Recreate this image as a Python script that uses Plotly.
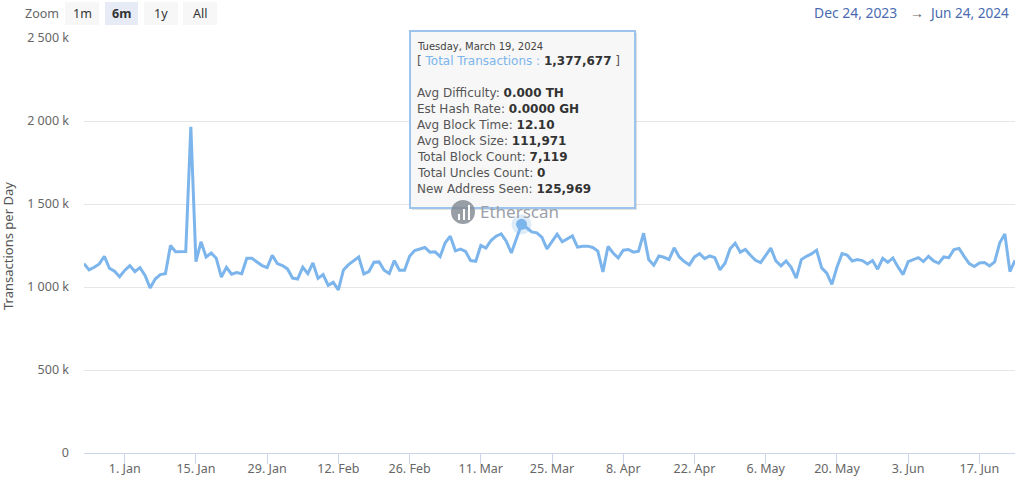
import pandas as pd
import plotly.graph_objects as go

# ==============================
# Data (thousands of transactions per day)
# ==============================
START_DATE = "2023-12-24"
END_DATE = "2024-06-24"
TRANSACTIONS_K = [
    1141, 1103, 1119, 1139, 1185, 1113, 1095, 1062, 1100, 1129, 1093, 1117, 1070, 994,
    1048, 1075, 1080, 1250, 1212, 1212, 1214, 1965, 1153, 1272, 1181, 1205, 1173, 1060,
    1119, 1077, 1087, 1080, 1173, 1173, 1149, 1129, 1117, 1191, 1141, 1129, 1109, 1054,
    1048, 1119, 1080, 1145, 1052, 1075, 1010, 1028, 982, 1103, 1135, 1157, 1181, 1079,
    1093, 1149, 1151, 1101, 1081, 1159, 1101, 1101, 1185, 1220, 1228, 1238, 1210, 1212,
    1183, 1266, 1306, 1218, 1228, 1214, 1159, 1155, 1250, 1234, 1280, 1306, 1320, 1276,
    1205, 1292, 1377.677, 1357, 1332, 1326, 1300, 1230, 1276, 1318, 1272, 1290, 1308, 1240,
    1246, 1246, 1238, 1216, 1091, 1244, 1205, 1175, 1222, 1226, 1210, 1216, 1324, 1165,
    1131, 1187, 1179, 1165, 1236, 1181, 1153, 1133, 1181, 1201, 1171, 1187, 1177, 1103,
    1143, 1230, 1264, 1210, 1226, 1191, 1161, 1147, 1189, 1234, 1157, 1127, 1157, 1119,
    1054, 1165, 1185, 1199, 1222, 1115, 1083, 1016, 1119, 1201, 1193, 1157, 1165, 1159,
    1139, 1159, 1107, 1173, 1149, 1175, 1121, 1075, 1153, 1165, 1177, 1153, 1185, 1157,
    1143, 1181, 1177, 1226, 1232, 1185, 1141, 1123, 1145, 1147, 1127, 1151, 1266, 1320,
    1093, 1161,
]
HOVER_DATE = "2024-03-19"
HOVER_VALUE_K = 1377.677

Y_TICKS = [0, 500, 1000, 1500, 2000, 2500]
Y_LABELS = ["0", "500 k", "1 000 k", "1 500 k", "2 000 k", "2 500 k"]
X_TICKS = [
    "2024-01-01", "2024-01-15", "2024-01-29", "2024-02-12", "2024-02-26", "2024-03-11",
    "2024-03-25", "2024-04-08", "2024-04-22", "2024-05-06", "2024-05-20", "2024-06-03",
    "2024-06-17",
]
X_LABELS = [
    "1. Jan", "15. Jan", "29. Jan", "12. Feb", "26. Feb", "11. Mar", "25. Mar", "8. Apr",
    "22. Apr", "6. May", "20. May", "3. Jun", "17. Jun",
]
ZOOM_BUTTONS = ["1m", "6m", "1y", "All"]
TOOLTIP_ROWS = [
    ("Avg Difficulty: ", "0.000 TH"),
    ("Est Hash Rate: ", "0.0000 GH"),
    ("Avg Block Time: ", "12.10"),
    ("Avg Block Size: ", "111,971"),
    ("Total Block Count: ", "7,119"),
    ("Total Uncles Count: ", "0"),
    ("New Address Seen: ", "125,969"),
]

W, H = 1024, 479
LEFT, RIGHT, TOP, BOTTOM = 84, 1015, 38, 453
FONT = "Noto Sans"
TIP_FONT = "DejaVu Sans"
BLUE = "#7cb5ec"


# paper coordinates are relative to the plot area, so convert from page pixels
def px(x):
    return (x - LEFT) / (RIGHT - LEFT)


def py(y):
    return (BOTTOM - y) / (BOTTOM - TOP)


def label(x, y, text, size=12, color="#666666", anchor="left", angle=0, family=FONT):
    return dict(
        x=px(x), y=py(y), xref="paper", yref="paper", text=text, showarrow=False,
        xanchor=anchor, yanchor="middle", textangle=angle,
        font=dict(family=family, size=size, color=color),
    )


def box(x0, y0, x1, y1, fill, line="rgba(0,0,0,0)", width=0):
    return dict(
        type="rect", xref="paper", yref="paper", x0=px(x0), x1=px(x1), y0=py(y0), y1=py(y1),
        fillcolor=fill, line=dict(color=line, width=width), layer="above",
    )


dates = pd.date_range(START_DATE, END_DATE, freq="D")

fig = go.Figure()
fig.add_trace(go.Scatter(
    x=dates, y=TRANSACTIONS_K, mode="lines",
    line=dict(color=BLUE, width=3), hoverinfo="skip",
))
# hovered point with its halo
fig.add_trace(go.Scatter(
    x=[HOVER_DATE], y=[HOVER_VALUE_K], mode="markers",
    marker=dict(color=BLUE, size=20, opacity=0.25), hoverinfo="skip",
))
fig.add_trace(go.Scatter(
    x=[HOVER_DATE], y=[HOVER_VALUE_K], mode="markers",
    marker=dict(color=BLUE, size=11), hoverinfo="skip",
))

shapes = []
annotations = []

# ==============================
# Zoom buttons and date range
# ==============================
annotations.append(label(23, 14, "Zoom", size=12.5))
for name, x0, x1 in zip(ZOOM_BUTTONS, [65, 105, 144, 183], [99, 138, 178, 217]):
    active = name == "6m"
    shapes.append(box(x0, 2, x1, 25, "#e6ebf5" if active else "#f7f7f7"))
    text = f"<b>{name}</b>" if active else name
    annotations.append(label((x0 + x1) / 2, 14, text, size=12.5, color="#333333", anchor="center"))

annotations.append(label(812, 13, "Dec 24, 2023", size=13.9, color="#4a6bb0"))
annotations.append(label(917, 13, "→", size=14, color="#666666", anchor="center"))
annotations.append(label(927, 13, "Jun 24, 2024", size=13.6, color="#4a6bb0"))

annotations.append(label(8, 246, "Transactions per Day", size=13, color="#555555",
                         anchor="center", angle=-90))

# ==============================
# Tooltip
# ==============================
shapes.append(box(412, 33, 637, 210, "rgba(0,0,0,0.12)"))
shapes.append(box(410, 31, 635, 208, "#f7f7f7", line="#9cc4ec", width=2))
annotations.append(label(415, 46, "Tuesday, March 19, 2024", size=10, color="#444444",
                         family=TIP_FONT))
annotations.append(label(
    415, 61.5,
    f"[ <span style='color:{BLUE}'>Total Transactions :</span> "
    "<b style='color:#333333'>1,377,677</b> ]",
    size=12, color="#555555", family=TIP_FONT,
))
for (name, value), y in zip(TOOLTIP_ROWS, [93, 109, 125, 141, 157, 173, 189]):
    annotations.append(label(415, y, f"{name}<b style='color:#333333'>{value}</b>",
                             size=12, color="#555555", family=TIP_FONT))

# ==============================
# Etherscan watermark (sits over the tooltip's lower edge)
# ==============================
shapes.append(dict(
    type="circle", xref="paper", yref="paper", x0=px(451), x1=px(475), y0=py(200), y1=py(224),
    fillcolor="#7f8791", line=dict(width=0), opacity=0.8, layer="above",
))
for x0, y0 in [(458, 214), (463, 209), (468, 205)]:
    shapes.append(box(x0, y0, x0 + 2, 220, "#ffffff"))
annotations.append(label(478, 212, "Etherscan", size=17, color="#9aa1aa"))

fig.update_layout(
    width=W, height=H, autosize=False,
    margin=dict(l=LEFT, r=W - RIGHT, t=TOP, b=H - BOTTOM, pad=0),
    paper_bgcolor="#ffffff", plot_bgcolor="#ffffff",
    showlegend=False,
    font=dict(family=FONT, size=12.5, color="#666666"),
    shapes=shapes, annotations=annotations,
    xaxis=dict(
        range=[START_DATE, END_DATE], tickmode="array", tickvals=X_TICKS, ticktext=X_LABELS,
        showgrid=False, showline=True, linecolor="#ccd6eb", linewidth=1,
        ticks="outside", ticklen=10, tickcolor="#ccd6eb", zeroline=False, automargin=False,
        ticklabelstandoff=-6,
    ),
    yaxis=dict(
        range=[0, 2500], tickmode="array", tickvals=Y_TICKS, ticktext=Y_LABELS,
        showgrid=True, gridcolor="#e6e6e6", gridwidth=1, zeroline=False, ticks="", ticklen=0,
        automargin=False, ticklabelstandoff=14,
    ),
)

# the page's default body margin would push the chart off its place
fig.write_html(
    "out.html",
    config={"displayModeBar": False},
    post_script="document.body.style.margin='0';document.body.style.overflow='hidden';",
)
